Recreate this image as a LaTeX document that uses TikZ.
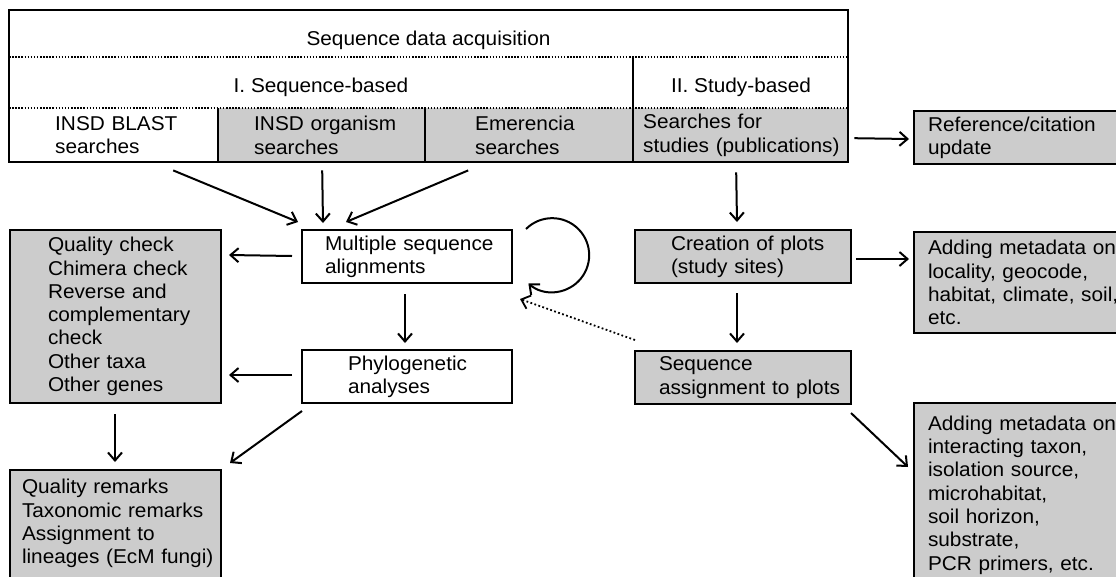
\documentclass[tikz,border=0pt]{standalone}
\usepackage{fontspec}
\setmainfont{Liberation Sans}[FakeStretch=1.04]
\usetikzlibrary{arrows.meta}
\definecolor{boxgray}{RGB}{204,204,204}

\begin{document}
\begin{tikzpicture}[x=1pt, y=-1pt,
    font=\fontsize{20}{23.3}\selectfont,
    box/.style={draw, line width=2pt, fill=boxgray, anchor=north west,
      inner xsep=0pt, inner ysep=0pt, align=left},
    cell/.style={fill=boxgray, anchor=north west, inner sep=0pt,
      align=left, minimum height=54pt},
    pad/.style={execute at begin node={\leftskip=#1pt\relax}},
    arr/.style={line width=2pt, -{Straight Barb[length=8pt,width=14pt]}},
    dots/.style={line width=1.7pt, dash pattern=on 1.5pt off 1.6pt}]
    \useasboundingbox (0,0) rectangle (1116,576);
    \fill[white] (0,0) rectangle (1116,576);
    \clip (0,0) rectangle (1116,576);

    % Sequence data acquisition table
    \node[cell, fill=white, text width=209pt, pad=46] (blast) at (9,108) {INSD BLAST\\searches};
    \node[cell, text width=207pt, pad=36] (org) at (218,108) {INSD organism\\searches};
    \node[cell, text width=208pt, pad=50] (emer) at (425,108) {Emerencia\\searches};
    \node[cell, text width=215pt, pad=10] (studies) at (633,108) {Searches for\\studies (publications)};
    \node[anchor=base] (acq) at (428.5,45) {Sequence data acquisition};
    \node[anchor=base] (seqb) at (321,92) {I. Sequence-based};
    \node[anchor=base] (studyb) at (741,92) {II. Study-based};
    \draw[line width=2pt] (9,10) rectangle (848,162);
    \draw[dots] (9,57) -- (848,57);
    \draw[dots] (9,108) -- (848,108);
    \draw[line width=2pt] (633,57) -- (633,162) (218,108) -- (218,162) (425,108) -- (425,162);

    % Sequence-based path
    \node[box, fill=white, text width=210pt, minimum height=53pt, pad=23] (msa) at (301,229) {Multiple sequence\\alignments};
    \node[box, fill=white, text width=210pt, minimum height=53pt, pad=46] (phylo) at (301,349) {Phylogenetic\\analyses};
    \node[box, text width=211pt, minimum height=173pt, pad=38] (qual) at (9,229) {Quality check\\Chimera check\\Reverse and\\complementary\\check\\Other taxa\\Other genes};
    \node[box, text width=211pt, inner ysep=9.4pt, text depth=100pt, pad=12] (remarks) at (9,469) {Quality remarks\\Taxonomic remarks\\Assignment to\\lineages (EcM fungi)};

    % Study-based path
    \node[box, text width=216pt, minimum height=53pt, pad=36] (plots) at (634,229) {Creation of plots\\(study sites)};
    \node[box, text width=216pt, minimum height=53pt, pad=24] (assign) at (634,350) {Sequence\\assignment to plots};
    \node[box, text width=230pt, minimum height=53pt, pad=14] (ref) at (913,110) {Reference/citation\\update};
    \node[box, text width=230pt, minimum height=101pt, pad=14] (sitemeta) at (913,231) {Adding metadata on\\locality, geocode,\\habitat, climate, soil,\\etc.};
    \node[box, text width=230pt, inner ysep=12.7pt, text depth=170pt, pad=14] (seqmeta) at (913,402) {Adding metadata on\\interacting taxon,\\isolation source,\\microhabitat,\\soil horizon,\\substrate,\\PCR primers, etc.};

    % arrows
    \draw[arr] ([shift={(59.5,8)}]blast.south) -- ([shift={(-109,-7)}]msa.north);
    \draw[arr] ([shift={(0.5,8)}]org.south) -- ([shift={(-84,-6)}]msa.north);
    \draw[arr] ([shift={(-61,8)}]emer.south) -- ([shift={(-61,-7)}]msa.north);
    \draw[arr] ([shift={(-9,-0.5)}]msa.west) -- ([shift={(7,-61.5)}]qual.east);
    \draw[arr] ([shift={(-2,10)}]msa.south) -- ([shift={(-2,-6)}]phylo.north);
    \draw[arr] ([shift={(-9,-1.5)}]phylo.west) -- ([shift={(7,58.5)}]qual.east);
    \draw[arr] ([shift={(-0.5,10)}]qual.south) -- ([shift={(-0.5,-7)}]remarks.north);
    \draw[arr] ([shift={(1,7)}]phylo.south west) -- ([shift={(8,-6)}]remarks.north east);
    \draw[arr] ([xshift=13pt]msa.north east) arc[start angle=135, end angle=-130, radius=37pt];
    \draw[arr, line width=1.8pt, dash pattern=on 1.8pt off 2.4pt] ([shift={(1,-10)}]assign.north west) -- ([shift={(7,15)}]msa.south east);
    \draw[arr] ([shift={(6,3)}]studies.east) -- ([shift={(-4,1.5)}]ref.west);
    \draw[arr] ([shift={(-4.5,10)}]studies.south) -- ([shift={(-6,-7)}]plots.north);
    \draw[arr] ([shift={(4,2.5)}]plots.east) -- ([shift={(-4,-23.5)}]sitemeta.west);
    \draw[arr] ([shift={(-6,9)}]plots.south) -- ([shift={(-6,-7)}]assign.north);
    \draw[arr] ([shift={(-1,8)}]assign.south east) -- ([shift={(-5,65)}]seqmeta.north west);
\end{tikzpicture}
\end{document}
